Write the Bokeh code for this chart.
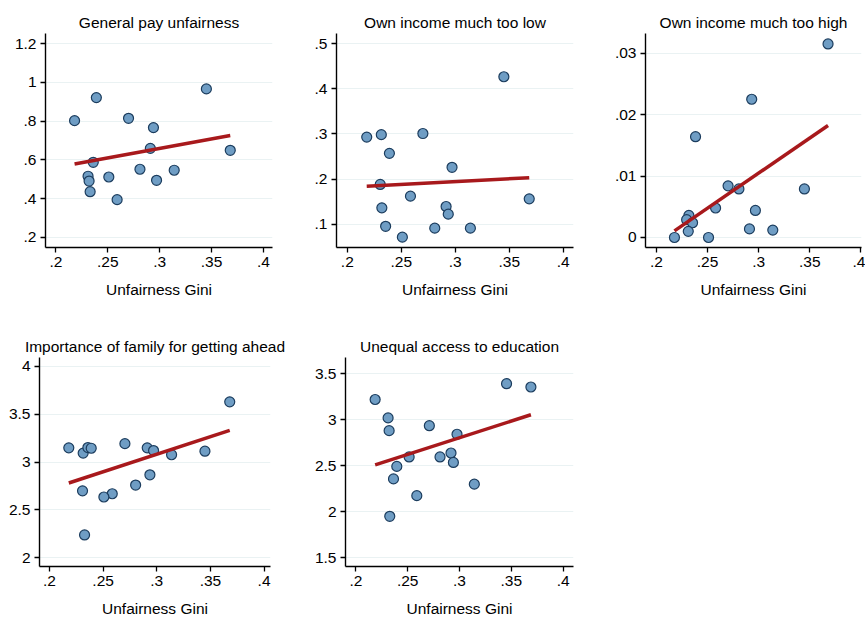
import numpy as np
from bokeh.plotting import figure
from bokeh.layouts import column, row
from bokeh.models import FixedTicker, CustomJSTickFormatter, Range1d
from bokeh.embed import file_html
from bokeh.resources import INLINE

# ---- data ----
titles = ["General pay unfairness", "Own income much too low", "Own income much too high",
          "Importance of family for getting ahead", "Unequal access to education"]
x_label = "Unfairness Gini"
x_ticks = [0.2, 0.25, 0.3, 0.35, 0.4]

x1 = [0.218, 0.239, 0.270, 0.294, 0.345, 0.291, 0.368, 0.236, 0.231, 0.232, 0.233, 0.251, 0.281, 0.314, 0.297, 0.259]
y1 = [0.803, 0.922, 0.815, 0.767, 0.967, 0.660, 0.650, 0.588, 0.516, 0.491, 0.436, 0.512, 0.552, 0.547, 0.495, 0.395]
y1_ticks = [0.2, 0.4, 0.6, 0.8, 1.0, 1.2]

x2 = [0.218, 0.2315, 0.270, 0.239, 0.345, 0.297, 0.2305, 0.2585, 0.3685, 0.232, 0.2915, 0.2935, 0.2355, 0.281, 0.314, 0.251]
y2 = [0.293, 0.2985, 0.301, 0.257, 0.427, 0.226, 0.188, 0.162, 0.156, 0.136, 0.139, 0.122, 0.095, 0.091, 0.091, 0.071]
y2_ticks = [0.1, 0.2, 0.3, 0.4, 0.5]

x3 = [0.2177, 0.3678, 0.2932, 0.2383, 0.2701, 0.2807, 0.3447, 0.2579, 0.2968, 0.2318, 0.2296, 0.2354, 0.2312, 0.291, 0.3138, 0.251]
y3 = [0.0, 0.0315, 0.0225, 0.0164, 0.0084, 0.0079, 0.0079, 0.0048, 0.0044, 0.0036, 0.0029, 0.0024, 0.0010, 0.0014, 0.0012, 0.0]
y3_ticks = [0.0, 0.01, 0.02, 0.03]

x4 = [0.218, 0.2314, 0.2358, 0.2389, 0.2703, 0.2911, 0.297, 0.3138, 0.3449, 0.368, 0.2936, 0.2803, 0.2585, 0.2507, 0.2308, 0.2327]
y4 = [3.148, 3.093, 3.151, 3.144, 3.192, 3.148, 3.12, 3.076, 3.113, 3.629, 2.866, 2.759, 2.668, 2.634, 2.698, 2.237]
y4_ticks = [2.0, 2.5, 3.0, 3.5, 4.0]

x5 = [0.2186, 0.2311, 0.2321, 0.2709, 0.2976, 0.3454, 0.3689, 0.2514, 0.2812, 0.2918, 0.2941, 0.2395, 0.2363, 0.2588, 0.3143, 0.2327]
y5 = [3.221, 3.021, 2.882, 2.936, 2.843, 3.393, 3.357, 2.596, 2.596, 2.639, 2.536, 2.493, 2.357, 2.175, 2.3, 1.95]
y5_ticks = [1.5, 2.0, 2.5, 3.0, 3.5]

FONT = "Liberation Sans"
fmt_code = "var s = String(Math.round(tick*10000)/10000); return s.replace(/^0\\./, '.');"


def panel(title, xs, ys, yticks, xr, yr, width, height, bl, br, bt, bb):
    p = figure(width=width, height=height, output_backend="svg", toolbar_location=None,
               x_range=Range1d(*xr), y_range=Range1d(*yr),
               min_border_left=bl, min_border_right=br, min_border_top=bt, min_border_bottom=bb)
    p.outline_line_color = None
    p.background_fill_color = "white"
    p.border_fill_color = "white"
    p.title.text = title
    p.title.align = "center"
    p.title.text_font = FONT
    p.title.text_font_size = "15.5px"
    p.title.text_font_style = "normal"
    p.title.text_color = "black"
    p.title.standoff = 6
    p.xgrid.visible = False
    p.ygrid.grid_line_color = "#EAF2F3"
    p.ygrid.grid_line_width = 1.2
    p.ygrid.ticker = FixedTicker(ticks=yticks)
    p.xaxis.ticker = FixedTicker(ticks=x_ticks)
    p.yaxis.ticker = FixedTicker(ticks=yticks)
    for ax in (p.xaxis[0], p.yaxis[0]):
        ax.formatter = CustomJSTickFormatter(code=fmt_code)
        ax.axis_line_width = 1.4
        ax.axis_line_color = "black"
        ax.major_tick_line_color = "black"
        ax.major_tick_line_width = 1.3
        ax.major_tick_out = 5
        ax.major_tick_in = 0
        ax.minor_tick_line_color = None
        ax.major_label_text_font = FONT
        ax.major_label_text_font_size = "15.5px"
        ax.major_label_text_color = "black"
        ax.major_label_standoff = 4
    p.xaxis.axis_label = x_label
    p.xaxis.axis_label_text_font = FONT
    p.xaxis.axis_label_text_font_size = "15.5px"
    p.xaxis.axis_label_text_font_style = "normal"
    p.xaxis.axis_label_text_color = "black"
    p.xaxis.axis_label_standoff = 11

    p.scatter(xs, ys, size=10, marker="circle", fill_color="#6F9DC4",
              line_color="#1C3D5E", line_width=1.2)
    b, a = np.polyfit(np.array(xs), np.array(ys), 1)
    lx = np.array([min(xs), max(xs)])
    p.line(lx, a + b * lx, line_color="#A8191C", line_width=3.5)
    return p


p1 = panel(titles[0], x1, y1, y1_ticks, (0.190, 0.4087), (0.148, 1.253), 290, 310, 45, 18, 33, 63)
p2 = panel(titles[1], x2, y2, y2_ticks, (0.190, 0.4095), (0.048, 0.523), 290, 310, 46, 7, 33, 63)
p3 = panel(titles[2], x3, y3, y3_ticks, (0.1894, 0.4005), (-0.00163, 0.0332), 285, 310, 65, 4, 33, 63)
p4 = panel(titles[3], x4, y4, y4_ticks, (0.1907, 0.406), (1.907, 4.093), 290, 309, 39, 20, 47, 50)
p5 = panel(titles[4], x5, y5, y5_ticks, (0.190, 0.410), (1.404, 3.678), 290, 309, 55, 7, 47, 50)

layout = column(row(p1, p2, p3), row(p4, p5))

open("out.html", "w").write(file_html(layout, INLINE))
